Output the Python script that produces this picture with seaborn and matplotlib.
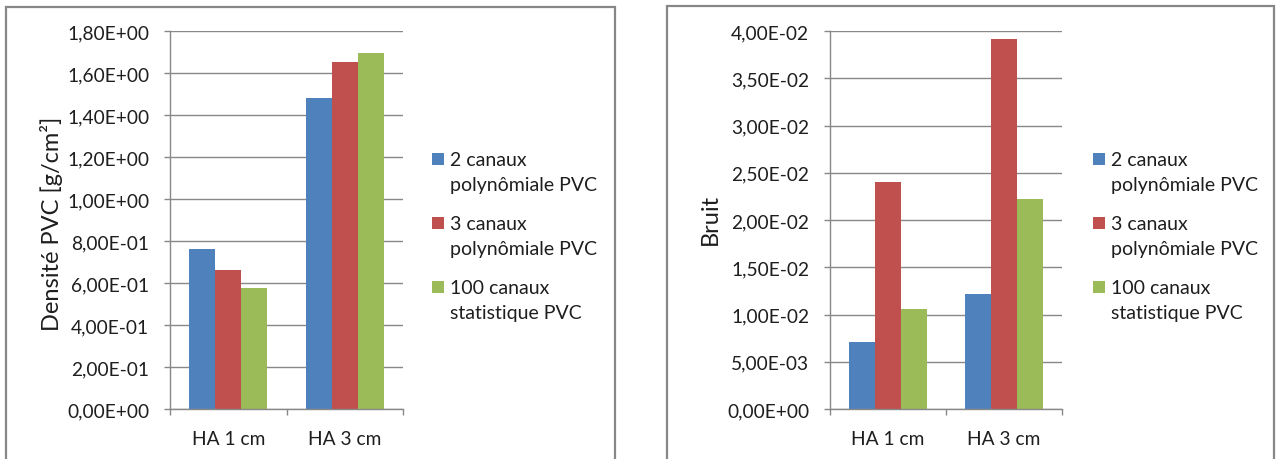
import matplotlib
matplotlib.use("Agg")
import matplotlib.pyplot as plt
import matplotlib.patches as mpatches
from matplotlib.legend_handler import HandlerPatch
from matplotlib.ticker import FuncFormatter, MultipleLocator, FixedLocator
import pandas as pd
import seaborn as sns

# ---- data -------------------------------------------------------------
categories = ["HA 1 cm", "HA 3 cm"]
series = [
    "2 canaux\npolynômiale PVC",
    "3 canaux\npolynômiale PVC",
    "100 canaux\nstatistique PVC",
]
densite_2_canaux = [0.762, 1.479]
densite_3_canaux = [0.660, 1.653]
densite_100_canaux = [0.575, 1.695]

bruit_2_canaux = [0.00705, 0.0122]
bruit_3_canaux = [0.0240, 0.0392]
bruit_100_canaux = [0.0106, 0.0222]

colors = ["#4F81BD", "#C0504D", "#9BBB59"]


def long_table(values_by_series, value_name):
    rows = []
    for name, vals in zip(series, values_by_series):
        for cat, v in zip(categories, vals):
            rows.append({"Hauteur": cat, "Méthode": name, value_name: v})
    return pd.DataFrame(rows)


df_densite = long_table([densite_2_canaux, densite_3_canaux, densite_100_canaux], "Densité")
df_bruit = long_table([bruit_2_canaux, bruit_3_canaux, bruit_100_canaux], "Bruit")

# ---- style ------------------------------------------------------------
sns.set_theme(style="white")
plt.rcParams["font.family"] = ["Lato", "DejaVu Sans"]
TEXT = "#1e1e1e"
GRID = "#888888"
TICK_FS = 13.8
LEG_FS = 14
LAB_FS = 17

W, H = 1279, 460
fig = plt.figure(figsize=(W / 100, H / 100), dpi=100)
fig.patch.set_facecolor("white")


def axes_px(x0, x1, ytop, ybot):
    return fig.add_axes([x0 / W, (H - ybot) / H, (x1 - x0) / W, (ybot - ytop) / H])


def sci_comma(v, _pos):
    return f"{v:.2E}".replace(".", ",")


def top_square(legend, orig_handle, xdescent, ydescent, width, height, fontsize):
    # square marker aligned with the first line of a two-line label
    s = 0.62 * fontsize
    y0 = -ydescent + (height - s) / 2 + 0.68 * fontsize
    return mpatches.Rectangle((-xdescent, y0), s, s)


def draw_panel(ax, df, value, ymax, ystep, ylabel, label_xy, legend_xy):
    sns.barplot(
        data=df, x="Hauteur", y=value, hue="Méthode", palette=colors,
        width=2 / 3, saturation=1, edgecolor="none", linewidth=0,
        errorbar=None, ax=ax,
    )
    ax.set_xlim(-0.5, 1.5)
    ax.set_ylim(0, ymax)
    ax.yaxis.set_major_locator(MultipleLocator(ystep))
    ax.yaxis.set_major_formatter(FuncFormatter(sci_comma))
    ax.set_axisbelow(True)
    ax.grid(axis="y", color=GRID, linewidth=1.0)
    ax.grid(axis="x", visible=False)
    for side in ("top", "right"):
        ax.spines[side].set_visible(False)
    for side in ("left", "bottom"):
        ax.spines[side].set_color(GRID)
        ax.spines[side].set_linewidth(1.0)

    ax.tick_params(axis="y", which="major", direction="out", length=4.5,
                   width=1.0, color=GRID, pad=10.5, labelsize=TICK_FS,
                   labelcolor=TEXT, left=True)
    ax.xaxis.set_minor_locator(FixedLocator([-0.5, 0.5, 1.5]))
    ax.tick_params(axis="x", which="minor", direction="out", length=4.5,
                   width=1.0, color=GRID, bottom=True)
    ax.tick_params(axis="x", which="major", length=0, pad=15,
                   labelsize=TICK_FS, labelcolor=TEXT)
    ax.set_xlabel("")
    ax.set_ylabel(ylabel, fontsize=LAB_FS, color=TEXT, va="center", ha="center")
    ax.yaxis.set_label_coords(label_xy[0] / W, (H - label_xy[1]) / H,
                              transform=fig.transFigure)

    handles, labels = ax.get_legend_handles_labels()
    if ax.legend_:
        ax.legend_.remove()
    leg = ax.legend(
        handles, labels, loc="upper left",
        bbox_to_anchor=(legend_xy[0] / W, (H - legend_xy[1]) / H),
        bbox_transform=fig.transFigure, frameon=False, borderpad=0,
        borderaxespad=0, fontsize=LEG_FS, handlelength=0.62,
        handleheight=0.7, handletextpad=0.3, labelspacing=1.15,
        handler_map={mpatches.Rectangle: HandlerPatch(patch_func=top_square)},
    )
    for t in leg.get_texts():
        t.set_color(TEXT)
        t.set_linespacing(1.55)


ax1 = axes_px(170, 403, 32, 410)
draw_panel(ax1, df_densite, "Densité", 1.8, 0.2, "Densité PVC [g/cm²]",
           (52, 224), (432, 152))

ax2 = axes_px(830, 1062, 32, 410)
draw_panel(ax2, df_bruit, "Bruit", 0.04, 0.005, "Bruit",
           (710, 219), (1093, 152))

# chart-area frames (open at the bottom edge of the image)
for x0, x1, y0 in [(6, 615, 8), (667, 1274, 7)]:
    fig.add_artist(mpatches.Rectangle(
        (x0 / W, -0.05), (x1 - x0) / W, (H - y0) / H + 0.05,
        transform=fig.transFigure, fill=False, edgecolor="#878787",
        linewidth=1.6, clip_on=False))

fig.savefig("out.png", dpi=100, facecolor="white")
